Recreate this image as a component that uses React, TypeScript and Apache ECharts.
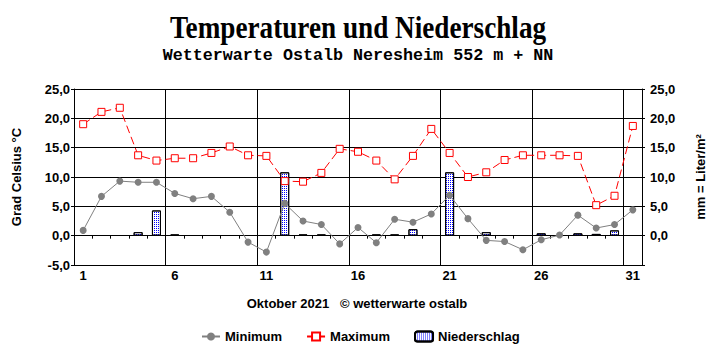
import React, { useEffect, useRef } from "react";
import * as echarts from "echarts";

const days = Array.from({ length: 31 }, (_, i) => String(i + 1));
const maxT = [19.0, 21.1, 21.8, 13.7, 12.8, 13.2, 13.2, 14.1, 15.2, 13.7, 13.6, 9.3, 9.2, 10.7, 14.8, 14.3, 12.8, 9.6, 13.6, 18.2, 14.1, 10.0, 10.8, 12.9, 13.7, 13.7, 13.7, 13.6, 5.2, 6.8, 18.7];
const minT = [0.9, 6.7, 9.3, 9.1, 9.1, 7.2, 6.3, 6.7, 4.0, -1.1, -2.8, 5.5, 2.5, 1.9, -1.4, 1.4, -1.2, 2.8, 2.3, 3.7, 6.9, 2.9, -0.8, -1.0, -2.4, -0.7, 0.1, 3.5, 1.3, 1.9, 4.4];
const rain: (number | null)[] = [null, null, null, 0.6, 4.3, 0.2, null, null, null, null, null, 10.8, 0.2, 0.2, null, null, 0.2, 0.2, 1.1, null, 10.8, null, 0.6, null, null, 0.4, null, 0.4, 0.3, 0.9, null];

const TITLE = "Temperaturen und Niederschlag";
const SUBTITLE = "Wetterwarte Ostalb Neresheim 552 m + NN";
const XNAME = "Oktober 2021   \u00a9 wetterwarte ostalb";

const SANS = '"Liberation Sans", Arial, sans-serif';
const fmt = (v: number) => v.toFixed(1).replace(".", ",");

export default function App() {
  const ref = useRef<HTMLDivElement>(null);
  useEffect(() => {
    document.body.style.margin = "0";
    const chart = echarts.init(ref.current!, undefined, { renderer: "svg" });
    const lbl = { color: "#000", fontFamily: SANS, fontWeight: "bold" as const, fontSize: 13 };
    chart.setOption({
      animation: false,
      backgroundColor: "#fff",
      graphic: [
        {
          type: "text",
          x: 358,
          y: 27,
          scaleX: 0.85,
          style: { text: TITLE, font: 'bold 32px "Liberation Serif", serif', fill: "#000", textAlign: "center", textVerticalAlign: "middle" },
        },
        {
          type: "text",
          x: 358,
          y: 55,
          style: { text: SUBTITLE, font: 'bold 16.7px "Liberation Mono", monospace', fill: "#000", textAlign: "center", textVerticalAlign: "middle" },
        },
        {
          type: "text",
          x: 357,
          y: 303,
          style: { text: XNAME, font: `bold 13px ${SANS}`, fill: "#000", textAlign: "center", textVerticalAlign: "middle" },
        },
      ],
      legend: {
        left: 196,
        top: 325,
        itemWidth: 18,
        itemHeight: 10,
        itemGap: 24,
        textStyle: { ...lbl, padding: [0, 0, 0, 0] },
        data: ["Minimum", "Maximum", "Niederschlag"],
      },
      grid: { left: 74, right: 73, top: 89, bottom: 87 },
      xAxis: [
        {
          type: "category",
          data: days,
          boundaryGap: true,
          axisLine: { onZero: false, lineStyle: { color: "#000" } },
          axisTick: { show: false },
          axisLabel: { ...lbl, interval: 4, margin: 4 },
          splitLine: { show: true, interval: (i: number) => i > 0 && i % 5 === 0, lineStyle: { color: "#000", width: 1 } },
        },
        {
          type: "category",
          data: days,
          boundaryGap: true,
          position: "bottom",
          axisLine: { onZero: true, onZeroAxisIndex: 0, lineStyle: { color: "#000" } },
          axisTick: { show: true, interval: 0, length: 3, lineStyle: { color: "#000" } },
          axisLabel: { show: false },
          splitLine: { show: false },
        },
      ],
      yAxis: [
        {
          type: "value",
          min: -5,
          max: 25,
          interval: 5,
          name: "Grad Celsius \u00b0C",
          nameLocation: "middle",
          nameRotate: 90,
          nameGap: 51,
          nameTextStyle: lbl,
          axisLine: { show: true, lineStyle: { color: "#000" } },
          axisTick: { show: true, length: 3, lineStyle: { color: "#000" } },
          axisLabel: { ...lbl, margin: 4, formatter: fmt },
          splitLine: { show: true, lineStyle: { color: "#000", width: 1 } },
        },
        {
          type: "value",
          min: -5,
          max: 25,
          interval: 5,
          position: "right",
          name: "mm = Liter/m\u00b2",
          nameLocation: "middle",
          nameRotate: 90,
          nameGap: 52,
          nameTextStyle: lbl,
          axisLine: { show: true, lineStyle: { color: "#000" } },
          axisTick: { show: true, length: 3, lineStyle: { color: "#000" } },
          axisLabel: { ...lbl, margin: 8, formatter: (v: number) => (v < 0 ? "" : fmt(v)) },
          splitLine: { show: false },
        },
      ],
      series: [
        {
          name: "Niederschlag",
          type: "bar",
          yAxisIndex: 1,
          barWidth: 9,
          z: 1,
          data: rain,
          itemStyle: {
            color: "#ffffff",
            borderColor: "#000",
            borderWidth: 1,
            decal: {
              symbol: "rect",
              symbolSize: 1,
              dashArrayX: [1, 1],
              dashArrayY: [1, 1],
              color: "#0000ff",
              rotation: 0,
            },
          },
        },
        {
          name: "Minimum",
          type: "line",
          z: 3,
          data: minT,
          symbol: "circle",
          symbolSize: 7,
          lineStyle: { color: "#808080", width: 1 },
          itemStyle: { color: "#808080" },
        },
        {
          name: "Maximum",
          type: "line",
          z: 4,
          data: maxT,
          symbol: "rect",
          symbolSize: 7,
          lineStyle: { color: "#ff0000", width: 1, type: [8, 4] },
          itemStyle: { color: "#ffffff", borderColor: "#ff0000", borderWidth: 1 },
        },
      ],
    });
    return () => chart.dispose();
  }, []);
  return <div ref={ref} style={{ width: 715, height: 352 }} />;
}
